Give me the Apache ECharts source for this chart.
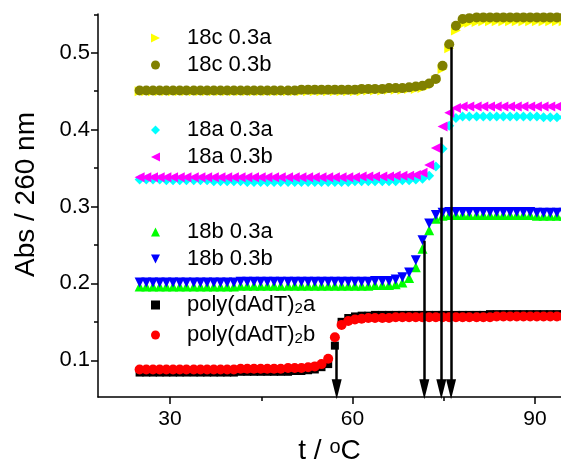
<!DOCTYPE html>
<html>
<head>
<meta charset="utf-8">
<title>Abs 260 nm melting curves</title>
<script src="https://cdn.jsdelivr.net/npm/echarts@6/dist/echarts.min.js"></script>
<style>
  html, body { margin: 0; padding: 0; background: #fff; }
  #chart { width: 561px; height: 465px; }
</style>
</head>
<body>
<div id="chart"></div>
<script>
// temperature of every reading, degC (shared by all runs)
var temps = [
  25.0, 26.1, 27.2, 28.3, 29.4, 30.5, 31.6, 32.7, 33.9, 35.0,
  36.1, 37.2, 38.3, 39.4, 40.5, 41.6, 42.7, 43.8, 44.9, 46.0,
  47.1, 48.2, 49.4, 50.5, 51.6, 52.7, 53.8, 54.9, 56.0, 57.1,
  58.2, 59.3, 60.4, 61.5, 62.6, 63.7, 64.9, 66.0, 67.1, 68.2,
  69.3, 70.4, 71.5, 72.6, 73.7, 74.8, 75.9, 77.0, 78.1, 79.2,
  80.4, 81.5, 82.6, 83.7, 84.8, 85.9, 87.0, 88.1, 89.2, 90.3,
  91.4, 92.5, 93.6, 94.7
];

var abs18c_a = [
  0.450, 0.450, 0.450, 0.450, 0.450, 0.450, 0.450, 0.450, 0.450, 0.450,
  0.450, 0.450, 0.450, 0.450, 0.450, 0.450, 0.450, 0.450, 0.450, 0.450,
  0.450, 0.450, 0.450, 0.450, 0.450, 0.450, 0.450, 0.450, 0.450, 0.450,
  0.450, 0.450, 0.450, 0.450, 0.451, 0.451, 0.451, 0.452, 0.452, 0.452,
  0.453, 0.453, 0.454, 0.457, 0.464, 0.479, 0.506, 0.529, 0.537, 0.539,
  0.540, 0.541, 0.541, 0.541, 0.541, 0.541, 0.541, 0.541, 0.541, 0.541,
  0.541, 0.541, 0.541, 0.541
];
var abs18c_b = [
  0.451, 0.451, 0.451, 0.451, 0.451, 0.451, 0.451, 0.451, 0.451, 0.451,
  0.451, 0.451, 0.451, 0.451, 0.451, 0.451, 0.451, 0.451, 0.451, 0.451,
  0.451, 0.451, 0.451, 0.451, 0.452, 0.452, 0.452, 0.452, 0.452, 0.452,
  0.452, 0.452, 0.452, 0.453, 0.453, 0.453, 0.453, 0.454, 0.454, 0.454,
  0.455, 0.456, 0.457, 0.460, 0.466, 0.483, 0.511, 0.535, 0.544, 0.545,
  0.546, 0.546, 0.546, 0.546, 0.546, 0.546, 0.546, 0.546, 0.546, 0.546,
  0.546, 0.546, 0.546, 0.546
];
var abs18a_a = [
  0.335, 0.335, 0.335, 0.335, 0.334, 0.334, 0.334, 0.334, 0.334, 0.334,
  0.334, 0.333, 0.333, 0.333, 0.333, 0.333, 0.332, 0.332, 0.332, 0.332,
  0.332, 0.332, 0.332, 0.332, 0.332, 0.332, 0.332, 0.332, 0.332, 0.332,
  0.332, 0.332, 0.333, 0.333, 0.333, 0.333, 0.333, 0.333, 0.333, 0.334,
  0.334, 0.335, 0.336, 0.340, 0.352, 0.375, 0.405, 0.415, 0.417, 0.417,
  0.417, 0.417, 0.417, 0.417, 0.417, 0.417, 0.417, 0.417, 0.417, 0.417,
  0.416, 0.416, 0.416, 0.416
];
var abs18a_b = [
  0.338, 0.338, 0.338, 0.338, 0.338, 0.338, 0.338, 0.338, 0.338, 0.338,
  0.338, 0.338, 0.338, 0.338, 0.338, 0.338, 0.338, 0.338, 0.338, 0.338,
  0.338, 0.338, 0.338, 0.338, 0.338, 0.338, 0.338, 0.338, 0.338, 0.338,
  0.338, 0.338, 0.338, 0.339, 0.339, 0.339, 0.339, 0.339, 0.340, 0.340,
  0.340, 0.341, 0.344, 0.354, 0.376, 0.404, 0.422, 0.428, 0.430, 0.430,
  0.430, 0.430, 0.430, 0.430, 0.430, 0.430, 0.430, 0.430, 0.430, 0.430,
  0.430, 0.430, 0.430, 0.430
];
var abs18b_a = [
  0.196, 0.196, 0.196, 0.196, 0.196, 0.196, 0.196, 0.196, 0.196, 0.196,
  0.196, 0.196, 0.196, 0.196, 0.196, 0.197, 0.197, 0.197, 0.197, 0.197,
  0.197, 0.197, 0.197, 0.197, 0.197, 0.197, 0.197, 0.197, 0.197, 0.197,
  0.197, 0.197, 0.197, 0.197, 0.197, 0.198, 0.198, 0.198, 0.199, 0.201,
  0.207, 0.221, 0.245, 0.269, 0.284, 0.288, 0.289, 0.289, 0.289, 0.289,
  0.289, 0.289, 0.289, 0.289, 0.289, 0.289, 0.289, 0.289, 0.289, 0.288,
  0.288, 0.288, 0.288, 0.288
];
var abs18b_b = [
  0.201, 0.201, 0.201, 0.201, 0.201, 0.201, 0.201, 0.201, 0.201, 0.201,
  0.201, 0.201, 0.201, 0.201, 0.201, 0.202, 0.202, 0.202, 0.202, 0.202,
  0.202, 0.202, 0.202, 0.202, 0.202, 0.202, 0.202, 0.202, 0.202, 0.202,
  0.202, 0.202, 0.202, 0.202, 0.202, 0.203, 0.203, 0.203, 0.205, 0.208,
  0.214, 0.230, 0.256, 0.278, 0.289, 0.292, 0.293, 0.293, 0.293, 0.293,
  0.293, 0.293, 0.293, 0.293, 0.293, 0.293, 0.293, 0.293, 0.293, 0.292,
  0.292, 0.292, 0.292, 0.292
];
var absPolyA = [
  0.084, 0.084, 0.084, 0.084, 0.084, 0.084, 0.084, 0.084, 0.084, 0.084,
  0.084, 0.084, 0.084, 0.084, 0.084, 0.085, 0.085, 0.085, 0.085, 0.085,
  0.085, 0.085, 0.085, 0.086, 0.086, 0.087, 0.088, 0.091, 0.095, 0.119,
  0.150, 0.155, 0.157, 0.158, 0.158, 0.159, 0.159, 0.159, 0.159, 0.159,
  0.159, 0.159, 0.159, 0.159, 0.159, 0.159, 0.159, 0.159, 0.159, 0.159,
  0.159, 0.159, 0.160, 0.160, 0.160, 0.160, 0.160, 0.160, 0.160, 0.160,
  0.160, 0.160, 0.160, 0.160
];
var absPolyB = [
  0.088, 0.088, 0.088, 0.088, 0.088, 0.088, 0.088, 0.088, 0.088, 0.088,
  0.088, 0.088, 0.088, 0.088, 0.088, 0.089, 0.089, 0.089, 0.089, 0.089,
  0.089, 0.089, 0.090, 0.090, 0.090, 0.091, 0.092, 0.095, 0.102, 0.130,
  0.146, 0.151, 0.153, 0.154, 0.155, 0.155, 0.155, 0.155, 0.156, 0.156,
  0.156, 0.156, 0.156, 0.156, 0.156, 0.156, 0.156, 0.156, 0.156, 0.156,
  0.156, 0.156, 0.156, 0.157, 0.157, 0.157, 0.157, 0.157, 0.157, 0.157,
  0.157, 0.157, 0.157, 0.157
];

var seriesNames = ['18c 0.3a', '18c 0.3b', '18a 0.3a', '18a 0.3b',
  '18b 0.3a', '18b 0.3b', 'poly(dAdT)2a', 'poly(dAdT)2b'];
var seriesValues = [abs18c_a, abs18c_b, abs18a_a, abs18a_b,
  abs18b_a, abs18b_b, absPolyA, absPolyB];

// melting temperatures marked by arrows and the point each arrow starts from
var arrowTemps = [57.4, 71.8, 74.6, 76.2];
var arrowTops = [0.121, 0.2555, 0.39, 0.507];

var xTickLabels = [30, 60, 90];
var xMinorTicks = [45, 75];
var yTickLabels = [0.1, 0.2, 0.3, 0.4, 0.5];
var yMinorTicks = [0.15, 0.25, 0.35, 0.45, 0.55];

var FONT = '"Liberation Sans", Arial, sans-serif';
var X_MIN = 18.16, X_MAX = 94.27;
var Y_MIN = 0.0522, Y_MAX = 0.5504;
var arrowBase = 0.0622;

var symRight = 'path://M0,0L10,5L0,10Z';
var symLeft = 'path://M10,0L0,5L10,10Z';
var symDown = 'path://M0,0L10,0L5,10Z';

var looks = [
  {color: '#ffff00', symbol: symRight, size: 10},
  {color: '#808000', symbol: 'circle', size: 10},
  {color: '#00ffff', symbol: 'diamond', size: 10},
  {color: '#ff00ff', symbol: symLeft, size: 10},
  {color: '#00ff00', symbol: 'triangle', size: 10},
  {color: '#0000ff', symbol: symDown, size: 10},
  {color: '#000000', symbol: 'rect', size: 8},
  {color: '#ff0000', symbol: 'circle', size: 10}
];

function pairs(vals) {
  return temps.map(function (t, i) { return [t, vals[i]]; });
}

var chart = echarts.init(document.getElementById('chart'));

var series = seriesNames.map(function (name, i) {
  return {
    name: name,
    type: 'scatter',
    data: pairs(seriesValues[i]),
    symbol: looks[i].symbol,
    symbolSize: looks[i].size,
    itemStyle: {color: looks[i].color, opacity: 1},
    clip: false,
    silent: true,
    animation: false
  };
});

series[series.length - 1].markLine = {
  silent: true,
  animation: false,
  symbol: ['none', 'triangle'],
  symbolSize: [10, 20],
  label: {show: false},
  emphasis: {disabled: true},
  lineStyle: {color: '#000', width: 2.5, type: 'solid', opacity: 1},
  data: arrowTemps.map(function (t, i) {
    return [{coord: [t, arrowTops[i]]}, {coord: [t, arrowBase]}];
  })
};

var legendRich = {
  sub: {fontFamily: FONT, fontSize: 15, lineHeight: 10, verticalAlign: 'bottom', color: '#000'}
};

function legendBox(names, top, gap) {
  return {
    data: names,
    orient: 'vertical',
    left: 151,
    top: top,
    padding: 0,
    itemWidth: 9,
    itemHeight: 9,
    itemGap: gap,
    selectedMode: false,
    formatter: function (n) { return n.replace(')2', '){sub|2}'); },
    textStyle: {
      fontFamily: FONT, fontSize: 22, color: '#000', lineHeight: 22,
      padding: [0, 0, 0, 22], rich: legendRich
    }
  };
}

chart.setOption({
  backgroundColor: '#fff',
  animation: false,
  grid: {left: 98, right: 0, top: 14, bottom: 68, outerBoundsMode: 'none'},
  legend: [
    legendBox(seriesNames.slice(0, 2), 27, 5),
    legendBox(seriesNames.slice(2, 4), 119, 5),
    legendBox(seriesNames.slice(4, 6), 221, 5),
    legendBox(seriesNames.slice(6, 8), 294, 8)
  ],
  xAxis: [{
    type: 'value',
    min: X_MIN,
    max: X_MAX,
    position: 'bottom',
    name: 't / {sup|o}C',
    nameLocation: 'middle',
    nameGap: 40,
    nameTextStyle: {
      fontFamily: FONT, fontSize: 28, color: '#000', lineHeight: 28,
      rich: {sup: {fontFamily: FONT, fontSize: 20, lineHeight: 18, verticalAlign: 'top', color: '#000'}}
    },
    axisLine: {lineStyle: {color: '#000', width: 1.5}},
    axisTick: {show: true, inside: false, length: 7, customValues: xTickLabels,
      lineStyle: {color: '#000', width: 1.5}},
    axisLabel: {customValues: xTickLabels, margin: 12, fontFamily: FONT, fontSize: 21, color: '#000'},
    splitLine: {show: false}
  }, {
    type: 'value',
    min: X_MIN,
    max: X_MAX,
    position: 'bottom',
    axisLine: {show: false},
    axisTick: {show: true, inside: false, length: 4, customValues: xMinorTicks,
      lineStyle: {color: '#000', width: 1.5}},
    axisLabel: {show: false},
    splitLine: {show: false}
  }],
  yAxis: [{
    type: 'value',
    min: Y_MIN,
    max: Y_MAX,
    position: 'left',
    name: 'Abs / 260 nm',
    nameLocation: 'middle',
    nameGap: 58,
    nameTextStyle: {fontFamily: FONT, fontSize: 28, color: '#000', padding: [0, 0, 0, 22]},
    axisLine: {show: true, lineStyle: {color: '#000', width: 1.5}},
    axisTick: {show: true, inside: false, length: 7, customValues: yTickLabels,
      lineStyle: {color: '#000', width: 1.5}},
    axisLabel: {customValues: yTickLabels, margin: 8, fontFamily: FONT, fontSize: 22, color: '#000',
      formatter: function (v) { return v.toFixed(1); }},
    splitLine: {show: false}
  }, {
    type: 'value',
    min: Y_MIN,
    max: Y_MAX,
    position: 'left',
    axisLine: {show: false},
    axisTick: {show: true, inside: false, length: 4, customValues: yMinorTicks,
      lineStyle: {color: '#000', width: 1.5}},
    axisLabel: {show: false},
    splitLine: {show: false}
  }],
  series: series
});
</script>
</body>
</html>
